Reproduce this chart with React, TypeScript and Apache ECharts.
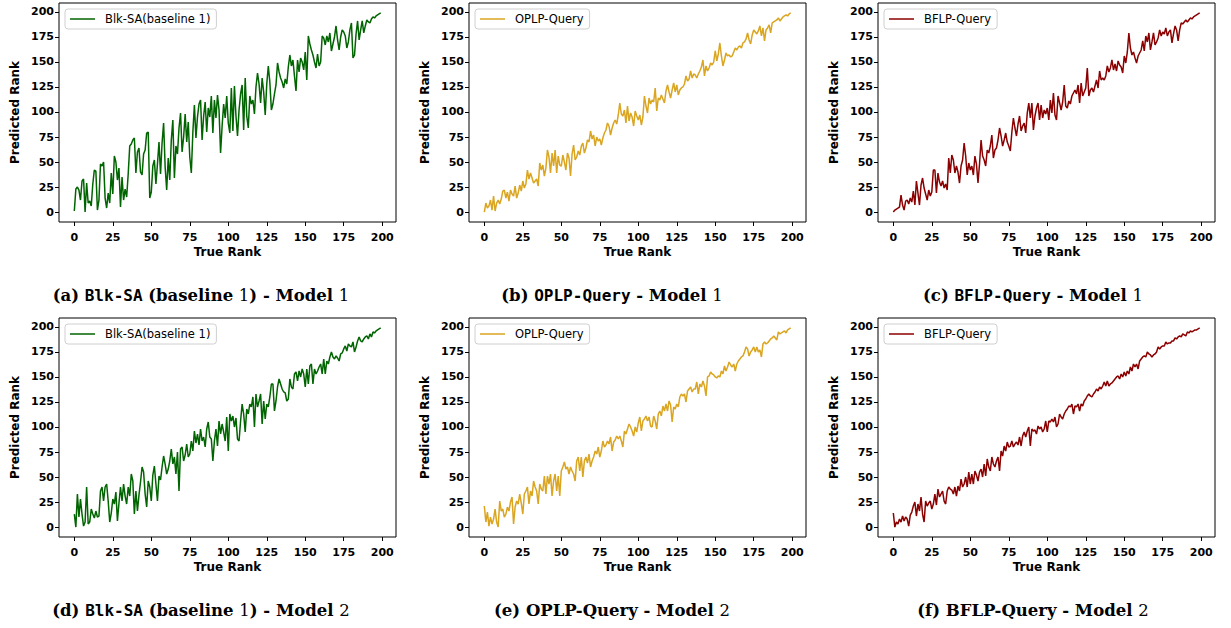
import React, { useEffect, useRef } from "react";
import * as echarts from "echarts";

// ---- data ----
const trueRank: number[] = Array.from({ length: 200 }, (_, i) => i);
const xTicks = [0, 25, 50, 75, 100, 125, 150, 175, 200];
const yTicks = [0, 25, 50, 75, 100, 125, 150, 175, 200];

const blkModel1 = [
  1, 23, 25, 22, 12, 31, 33, 0, 29, 9,
  11, 6, 28, 42, 41, 2, 12, 48, 46, 50,
  14, 4, 19, 9, 39, 18, 56, 50, 32, 44,
  5, 35, 12, 23, 15, 38, 66, 68, 72, 74,
  39, 60, 64, 40, 37, 58, 62, 79, 80, 14,
  20, 46, 52, 28, 48, 70, 38, 69, 89, 45,
  22, 54, 32, 72, 92, 34, 66, 58, 84, 99,
  60, 75, 98, 70, 90, 55, 39, 80, 107, 74,
  95, 108, 112, 72, 96, 110, 80, 104, 95, 116,
  79, 112, 94, 117, 102, 59, 86, 108, 94, 116,
  89, 79, 124, 81, 126, 96, 76, 102, 118, 127,
  82, 134, 96, 84, 116, 108, 112, 98, 125, 139,
  128, 109, 134, 120, 97, 128, 146, 130, 102, 108,
  118, 127, 149, 140, 134, 130, 124, 133, 128, 145,
  157, 146, 152, 136, 121, 152, 140, 154, 150, 142,
  160, 132, 176, 168, 162, 157, 150, 144, 158, 146,
  150, 176, 174, 167, 176, 170, 179, 161, 168, 175,
  186, 172, 162, 175, 182, 180, 176, 164, 170, 182,
  189, 154, 157, 178, 191, 172, 182, 191, 179, 186,
  192, 190, 189, 193, 195, 194, 196, 197, 198, 199,
];

const oplpModel1 = [
  0, 9, 4, 6, 12, 2, 16, 1, 9, 12,
  8, 13, 21, 22, 14, 20, 11, 22, 18, 16,
  26, 14, 19, 27, 21, 31, 24, 28, 42, 33,
  39, 34, 29, 31, 33, 26, 49, 42, 47, 36,
  44, 62, 55, 39, 59, 46, 62, 39, 56, 47,
  46, 57, 50, 42, 59, 54, 36, 58, 67, 52,
  55, 61, 57, 66, 69, 59, 64, 72, 70, 81,
  73, 77, 66, 75, 71, 73, 67, 74, 79, 82,
  89, 86, 77, 84, 89, 92, 88, 97, 109, 98,
  96, 102, 89, 106, 91, 99, 95, 86, 101, 96,
  92, 97, 87, 95, 116, 106, 99, 114, 108, 112,
  110, 124, 101, 114, 112, 117, 113, 109, 121, 127,
  120, 114, 122, 129, 120, 127, 117, 122, 124, 125,
  128, 136, 131, 133, 141, 134, 138, 137, 134, 138,
  141, 145, 152, 136, 146, 141, 144, 149, 147, 150,
  161, 151, 158, 169, 156, 146, 152, 159, 156, 157,
  155, 156, 160, 164, 162, 165, 166, 164, 169, 170,
  173, 179, 172, 168, 177, 182, 180, 178, 181, 186,
  176, 184, 171, 182, 184, 187, 179, 189, 190, 191,
  192, 194, 191, 193, 195, 196, 197, 196, 198, 199,
];

const bflpModel1 = [
  0, 2, 3, 4, 5, 17, 7, 2, 11, 12,
  8, 14, 10, 21, 7, 31, 19, 7, 27, 34,
  24, 18, 12, 22, 16, 20, 42, 42, 19, 39,
  30, 26, 31, 24, 28, 22, 54, 39, 57, 52,
  39, 46, 40, 29, 46, 52, 69, 56, 37, 49,
  42, 46, 37, 56, 48, 29, 48, 72, 56, 52,
  46, 62, 59, 66, 77, 54, 62, 64, 72, 84,
  76, 66, 72, 79, 70, 66, 61, 80, 94, 84,
  76, 88, 96, 81, 86, 89, 79, 99, 109, 94,
  109, 82, 96, 104, 109, 92, 107, 94, 102, 98,
  104, 92, 112, 99, 119, 97, 92, 116, 109, 102,
  110, 127, 106, 104, 111, 108, 116, 119, 122, 118,
  127, 109, 129, 116, 120, 124, 144, 116, 122, 124,
  120, 126, 132, 124, 141, 132, 134, 132, 136, 146,
  140, 144, 152, 142, 148, 141, 151, 147, 145, 139,
  156, 149, 160, 179, 164, 157, 160, 154, 149, 156,
  159, 162, 171, 161, 176, 170, 179, 162, 170, 179,
  167, 170, 174, 182, 176, 180, 178, 184, 176, 180,
  182, 169, 178, 186, 182, 171, 182, 189, 188, 190,
  192, 190, 192, 194, 193, 195, 196, 197, 198, 199,
];

const blkModel2 = [
  13, 0, 33, 10, 28, 13, 1, 5, 40, 3,
  5, 18, 13, 9, 16, 10, 11, 36, 40, 26,
  40, 43, 26, 5, 14, 28, 23, 35, 6, 24,
  40, 26, 43, 31, 23, 40, 31, 53, 46, 13,
  36, 16, 32, 45, 60, 55, 33, 20, 46, 40,
  26, 52, 61, 43, 26, 51, 47, 60, 71, 63,
  53, 58, 66, 78, 63, 70, 53, 75, 36, 78,
  80, 66, 72, 83, 70, 73, 86, 76, 96, 84,
  93, 82, 98, 86, 90, 80, 98, 105, 90, 88,
  66, 86, 98, 81, 106, 93, 103, 95, 86, 110,
  76, 113, 106, 111, 100, 109, 88, 86, 106, 123,
  113, 95, 118, 113, 123, 120, 130, 100, 133, 120,
  126, 133, 103, 126, 108, 123, 120, 130, 143, 143,
  116, 126, 140, 148, 143, 138, 135, 134, 126, 128,
  148, 140, 138, 153, 155, 146, 156, 150, 158, 153,
  140, 158, 143, 161, 163, 143, 158, 153, 156, 160,
  163, 153, 168, 153, 166, 163, 170, 175, 170, 168,
  171, 169, 166, 173, 174, 178, 181, 176, 183, 181,
  180, 185, 175, 180, 186, 190, 186, 185, 188, 190,
  191, 188, 193, 190, 195, 194, 196, 197, 198, 199,
];

const oplpModel2 = [
  21, 5, 15, 1, 10, 3, 8, 18, 5, 0,
  26, 16, 18, 10, 13, 20, 16, 25, 30, 3,
  20, 26, 23, 33, 24, 13, 33, 36, 40, 23,
  36, 31, 46, 40, 36, 23, 43, 38, 36, 51,
  33, 51, 43, 53, 31, 46, 53, 36, 51, 31,
  56, 60, 65, 58, 60, 53, 60, 56, 53, 46,
  66, 70, 56, 70, 50, 66, 70, 64, 73, 60,
  66, 70, 76, 73, 80, 70, 76, 86, 80, 82,
  86, 83, 90, 76, 85, 87, 91, 88, 91, 86,
  80, 96, 93, 98, 103, 100, 96, 91, 100, 95,
  104, 110, 96, 106, 108, 111, 106, 110, 101, 100,
  111, 106, 98, 113, 116, 111, 121, 116, 123, 116,
  126, 122, 105, 120, 118, 123, 120, 130, 133, 131,
  133, 125, 136, 138, 140, 135, 138, 138, 145, 133,
  143, 140, 146, 141, 131, 150, 151, 155, 153, 152,
  150, 149, 151, 150, 156, 153, 161, 156, 160, 165,
  162, 160, 163, 156, 163, 166, 168, 170, 171, 175,
  180, 178, 171, 175, 177, 180, 175, 180, 175, 177,
  170, 183, 185, 183, 184, 186, 188, 189, 191, 189,
  187, 195, 193, 194, 195, 196, 194, 197, 198, 199,
];

const bflpModel2 = [
  14, 0, 5, 3, 8, 5, 11, 6, 10, 8,
  1, 12, 15, 21, 25, 11, 23, 16, 30, 13,
  5, 26, 21, 24, 26, 18, 23, 33, 22, 38,
  30, 33, 36, 26, 23, 36, 40, 38, 37, 33,
  40, 31, 41, 36, 48, 40, 43, 50, 40, 55,
  43, 53, 43, 56, 52, 46, 55, 58, 50, 63,
  51, 68, 60, 56, 70, 63, 60, 66, 70, 56,
  76, 71, 81, 76, 85, 80, 81, 86, 80, 83,
  85, 82, 90, 81, 91, 95, 90, 96, 100, 81,
  98, 96, 97, 93, 101, 98, 100, 95, 98, 106,
  95, 106, 105, 108, 105, 110, 100, 103, 113, 110,
  108, 113, 116, 118, 121, 120, 123, 113, 121, 120,
  123, 116, 123, 121, 126, 128, 131, 133, 131, 130,
  133, 135, 138, 136, 140, 138, 141, 145, 141, 146,
  141, 143, 144, 146, 148, 150, 151, 148, 153, 150,
  155, 151, 156, 153, 160, 156, 163, 160, 163, 158,
  166, 168, 170, 171, 170, 175, 173, 172, 170, 172,
  173, 175, 180, 178, 180, 181, 181, 185, 183, 184,
  184, 186, 186, 189, 188, 190, 191, 190, 193, 192,
  191, 195, 194, 196, 195, 196, 197, 197, 198, 199,
];

const seriesNames = ["Blk-SA(baseline 1)", "OPLP-Query", "BFLP-Query"];
const seriesColors = ["#006400", "#DAA520", "#8B0000"];
const panelData = [blkModel1, oplpModel1, bflpModel1, blkModel2, oplpModel2, bflpModel2];

// ---- layout ----
const gridLefts = [59, 469, 878];
const gridTops = [3, 318];
const gridW = 337;
const gridH = 219;
const captionX = [201, 612, 1033];
const captionY = [295, 610];
const letters = ["a", "b", "c", "d", "e", "f"];
const methodLabels = ["Blk-SA", "OPLP-Query", "BFLP-Query"];

function caption(k: number): string {
  const col = k % 3;
  const row = Math.floor(k / 3);
  const model = row === 0 ? "1" : "2";
  const mono = row === 0 || col === 0;
  const name = mono ? `{m|${methodLabels[col]}}` : `{s|${methodLabels[col]}}`;
  if (col === 0) {
    return `{s|(${letters[k]}) }${name}{s| (baseline }{n|1}{s|) - Model }{n|${model}}`;
  }
  return `{s|(${letters[k]}) }${name}{s| - Model }{n|${model}}`;
}

export default function App() {
  const ref = useRef<HTMLDivElement>(null);
  useEffect(() => {
    if (!ref.current) return;
    const chart = echarts.init(ref.current, null, { renderer: "svg" });
    const grids: any[] = [];
    const xAxes: any[] = [];
    const yAxes: any[] = [];
    const series: any[] = [];
    const legends: any[] = [];
    const graphics: any[] = [];
    const tickFont = { fontFamily: "DejaVu Sans", fontWeight: "bold", fontSize: 11, color: "#000" };
    const nameFont = { fontFamily: "DejaVu Sans", fontWeight: "bold", fontSize: 12, color: "#000" };
    for (let k = 0; k < 6; k++) {
      const col = k % 3;
      const row = Math.floor(k / 3);
      const left = gridLefts[col];
      const top = gridTops[row];
      grids.push({
        left, top, width: gridW, height: gridH,
        show: true, borderColor: "#000", borderWidth: 1, backgroundColor: "transparent",
      });
      xAxes.push({
        type: "value", gridIndex: k, min: -9.95, max: 208.95,
        axisLine: { show: false, onZero: false },
        axisTick: { show: true, length: 4, lineStyle: { color: "#000", width: 1 }, customValues: xTicks },
        axisLabel: { ...tickFont, margin: 10, customValues: xTicks, formatter: (v: number) => String(v) },
        splitLine: { show: false },
        name: "True Rank", nameLocation: "middle", nameGap: 24,
        nameTextStyle: nameFont,
      });
      yAxes.push({
        type: "value", gridIndex: k, min: -9.95, max: 208.95,
        axisLine: { show: false, onZero: false },
        axisTick: { show: true, length: 4, lineStyle: { color: "#000", width: 1 }, customValues: yTicks },
        axisLabel: { ...tickFont, margin: 5, customValues: yTicks, formatter: (v: number) => String(v) },
        splitLine: { show: false },
        name: "Predicted Rank", nameLocation: "middle", nameGap: 38,
        nameTextStyle: nameFont,
      });
      const vals = panelData[k];
      series.push({
        type: "line",
        name: seriesNames[col],
        xAxisIndex: k, yAxisIndex: k,
        data: trueRank.map((x, i) => [x, vals[i]]),
        showSymbol: false, symbol: "none",
        lineStyle: { color: seriesColors[col], width: 1.5 },
        itemStyle: { color: seriesColors[col] },
        silent: true,
      });
      legends.push({
        data: [seriesNames[col]],
        left: left + 6, top: top + 6,
        orient: "vertical",
        icon: "rect", itemWidth: 25, itemHeight: 1.5,
        padding: [4, 6, 4, 5],
        borderColor: "#d0d0d0", borderWidth: 1, borderRadius: 3,
        backgroundColor: "rgba(255,255,255,0.8)",
        textStyle: { fontFamily: "DejaVu Sans", fontSize: 11.5, color: "#000", padding: [0, 0, 0, 5] },
        selectedMode: false,
      });
      graphics.push({
        type: "text",
        x: captionX[col], y: captionY[row],
        style: {
          text: caption(k),
          align: "center", verticalAlign: "middle",
          rich: {
            s: { fontFamily: "DejaVu Serif", fontWeight: "bold", fontSize: 16.5, fill: "#000", color: "#000" },
            m: { fontFamily: "DejaVu Sans Mono", fontWeight: "bold", fontSize: 16, fill: "#000", color: "#000" },
            n: { fontFamily: "DejaVu Serif", fontWeight: "normal", fontSize: 16.5, fill: "#000", color: "#000" },
          },
        },
      });
    }
    chart.setOption({
      animation: false,
      backgroundColor: "#fff",
      grid: grids,
      xAxis: xAxes,
      yAxis: yAxes,
      series,
      legend: legends,
      graphic: graphics,
    });
    return () => chart.dispose();
  }, []);
  return (
    <div
      ref={ref}
      style={{ position: "absolute", left: 0, top: 0, width: 1231, height: 628 }}
    />
  );
}
